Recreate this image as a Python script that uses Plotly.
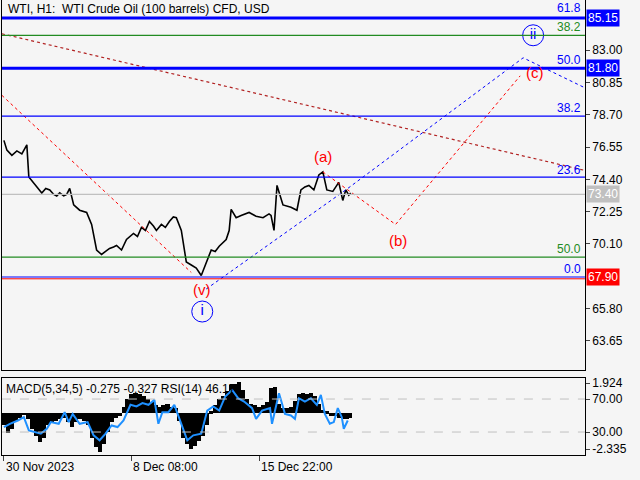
import plotly.graph_objects as go

# ---- price data (bar index, close) ----
px_x = [2,5,10,15,20,25,27,32,36,40,44,48,52,55,58,62,65,68,72,78,85,90,95,100,104,108,112,115,120,125,132,136,140,144,148,152,155,160,164,168,172,175,180,185,190,195,200,205,210,214,218,225,228,230,235,240,248,255,262,268,270,273,276,282,290,296,300,304,308,313,318,322,326,332,338,342,345,348,350]
px_y = [77.0,76.35,76.0,76.3,76.1,76.7,74.56,74.15,73.9,73.5,73.8,73.7,73.4,73.3,73.5,73.3,73.4,73.8,72.7,72.35,72.2,71.4,69.7,69.4,69.6,69.8,69.9,70.0,69.7,70.4,70.8,70.6,71.2,71.0,71.6,71.3,71.0,71.4,71.2,71.6,71.9,71.85,71.0,68.9,68.7,68.5,68.0,68.9,69.7,69.6,69.95,70.4,71.0,72.4,71.85,72.0,72.2,71.95,71.85,72.1,72.0,71.0,74.0,72.7,72.55,72.35,73.7,73.9,74.0,73.7,74.7,74.9,73.7,73.6,74.2,73.0,73.7,73.35,73.5]

# ---- MACD histogram ----
macd_x = [2,6,10,14,18,22,26,30,34,38,42,46,50,54,58,62,66,70,74,78,82,86,90,94,98,102,106,110,114,118,122,126,130,134,138,142,146,150,154,158,162,166,170,174,178,182,186,190,194,198,202,206,210,214,218,222,226,230,234,238,242,246,250,254,258,262,266,270,274,278,282,286,290,294,298,302,306,310,314,318,322,326,330,334,338,342,346,349]
macd_v = [-0.8,-1.3,-1.0,-0.5,-0.3,-0.1,-0.4,-1.0,-1.5,-1.9,-1.6,-0.8,-0.6,-0.5,-0.4,-0.3,-0.6,-0.9,-0.6,-0.4,-0.5,-0.8,-1.6,-2.2,-2.5,-2.0,-1.2,-0.6,-0.3,-0.2,0.4,0.9,1.2,1.3,1.2,1.1,0.9,0.7,0.5,0.4,0.5,0.6,0.4,0.3,-0.5,-1.6,-2.0,-2.3,-2.1,-1.8,-1.5,-0.8,0.1,0.5,0.9,1.1,1.4,1.8,1.9,2.0,1.5,0.9,0.6,0.5,0.4,0.5,0.7,1.6,1.7,0.6,0.3,0.3,0.4,0.8,1.2,1.3,1.2,1.3,1.1,0.6,0.2,0.1,-0.2,-0.2,-0.3,-0.4,-0.4,-0.3]

# ---- RSI ----
rsi_x = [2,8,16,22,27,33,39,45,49,57,63,67,71,78,86,92,98,104,110,116,122,129,135,141,147,153,157,161,167,173,180,186,192,200,206,212,218,224,231,237,243,251,255,261,269,271,278,284,290,294,298,304,310,316,320,324,329,333,337,341,343,347]
rsi_v = [36,40,44,48,32,30,28,34,42,40,54,42,52,40,42,26,20,28,38,36,44,63,61,65,63,69,40,54,54,63,40,20,26,28,56,61,56,73,81,71,67,59,46,56,59,40,77,52,50,46,71,67,71,63,75,52,40,42,59,48,34,44]

# ---- levels ----
lvl_blue_thick = [85.15, 81.80]
lvl_blue_thin = [78.62, 74.55, 67.90]
lvl_green = [84.00, 69.22]
lvl_gray = [73.40]
fib_labels = [("61.8", 85.85, "blue"), ("38.2", 84.55, "green"), ("50.0", 82.35, "blue"),
              ("38.2", 79.15, "blue"), ("23.6", 75.05, "blue"), ("50.0", 69.75, "green"),
              ("0.0", 68.45, "blue")]
ytick_vals = [83.00, 80.85, 78.70, 76.55, 74.40, 72.25, 70.10, 65.80, 63.65]
box_labels = [(85.15, "85.15", "#0000ff", "white"), (81.80, "81.80", "#0000ff", "white"),
              (73.40, "73.40", "#c0c0c0", "white"), (67.90, "67.90", "#ff0000", "white")]
date_pos = [2, 130, 258]
date_txt = ["30 Nov 2023", "8 Dec 08:00", "15 Dec 22:00"]

# wave paths
red_trend = ([0, 190], [80.0, 68.2])
brown_trend = ([0, 585], [84.1, 75.0])
blue_path = ([205, 345, 523, 585], [67.1, 73.7, 82.5, 80.5])
red_path = ([322, 395, 520], [74.9, 71.4, 81.3])
wave_labels = [("(a)", 322, 75.9, "red"), ("(b)", 397, 70.3, "red"), ("(c)", 535, 81.5, "red"),
               ("(v)", 201, 67.05, "red")]
circ_labels = [("i", 201, 65.6), ("ii", 533, 84.0)]

font = "Liberation Sans"
fig = go.Figure()

fig.add_trace(go.Scatter(x=px_x, y=px_y, mode="lines", line=dict(color="black", width=1.6),
                         xaxis="x", yaxis="y", showlegend=False))
for (xs, ys), col, dash, w in [(red_trend, "red", "dot", 1), (brown_trend, "#b22222", "dot", 1.2),
                                (blue_path, "blue", "dot", 1), (red_path, "red", "dot", 1)]:
    fig.add_trace(go.Scatter(x=xs, y=ys, mode="lines", line=dict(color=col, dash=dash, width=w),
                             xaxis="x", yaxis="y", showlegend=False))
for t, x, y, c in wave_labels:
    fig.add_annotation(x=x, y=y, text=t, showarrow=False, font=dict(color=c, size=15, family=font), xref="x", yref="y")
fig.add_trace(go.Scatter(x=[c[1] for c in circ_labels], y=[c[2] for c in circ_labels],
                         mode="markers+text", text=[c[0] for c in circ_labels],
                         marker=dict(symbol="circle-open", size=21, color="blue", line=dict(width=1)),
                         textfont=dict(color="blue", size=15, family=font), textposition="middle center",
                         xaxis="x", yaxis="y", showlegend=False))

shapes = []
def hline(y, color, width):
    shapes.append(dict(type="line", xref="x", yref="y", x0=0, x1=585, y0=y, y1=y, line=dict(color=color, width=width)))
for y in lvl_blue_thick: hline(y, "#0000ff", 3)
for y in lvl_blue_thin: hline(y, "#0000ff", 1.2)
for y in lvl_green: hline(y, "#228b22", 1.2)
for y in lvl_gray: hline(y, "#c0c0c0", 1.2)
shapes.append(dict(type="line", xref="x", yref="y", x0=0, x1=585, y0=67.78, y1=67.78, line=dict(color="red", width=1)))
for y in [70, 30]:
    shapes.append(dict(type="line", xref="x2", yref="y3", x0=0, x1=585, y0=y, y1=y, line=dict(color="#c0c0c0", width=1, dash="dash")))

for t, y, c in fib_labels:
    fig.add_annotation(x=583, y=y, text=t, showarrow=False, xanchor="right",
                       font=dict(color="#228b22" if c == "green" else "blue", size=12, family=font), xref="x", yref="y")
for y, t, bg, fg in box_labels:
    fig.add_annotation(x=0.916, xref="paper", y=y, yref="y", text=t, showarrow=False, xanchor="left",
                       bgcolor=bg, font=dict(color=fg, size=12, family=font), borderpad=1)
for xp, t in zip(date_pos, date_txt):
    fig.add_annotation(x=xp, xref="x2", y=0.045, yref="paper", yanchor="top", xanchor="left", text=t,
                       showarrow=False, font=dict(size=12, family=font, color="black"))

fig.add_annotation(x=0.01, xref="paper", y=1, yref="paper", yanchor="top", text="WTI, H1:  WTI Crude Oil (100 barrels) CFD, USD",
                   showarrow=False, xanchor="left", font=dict(size=12, family=font, color="black"))

# sub panel
fig.add_trace(go.Bar(x=macd_x, y=macd_v, width=4.2, marker=dict(color="black", line=dict(width=0)),
                     xaxis="x2", yaxis="y2", showlegend=False))
fig.add_trace(go.Scatter(x=rsi_x, y=rsi_v, mode="lines", line=dict(color="#1e90ff", width=2),
                         xaxis="x2", yaxis="y3", showlegend=False))
fig.add_annotation(x=0.006, xref="paper", y=0.209, yref="paper", yanchor="top", text="MACD(5,34,5) -0.275 -0.327 RSI(14) 46.17",
                   showarrow=False, xanchor="left", font=dict(size=12, family=font, color="black"))

tf = dict(size=12, family=font, color="black")
fig.update_layout(
    width=640, height=480, margin=dict(l=0, r=0, t=0, b=0),
    paper_bgcolor="#f5f5f5", plot_bgcolor="#f5f5f5", shapes=shapes, bargap=0,
    xaxis=dict(domain=[0.003, 0.914], range=[0, 585], showticklabels=False, showgrid=False, zeroline=False,
               showline=True, mirror=True, linecolor="black", anchor="y", automargin=False),
    yaxis=dict(domain=[0.229, 1.0], range=[61.70, 86.35], side="right", tickvals=ytick_vals,
               ticktext=[f"{v:.2f}" for v in ytick_vals], showgrid=False, zeroline=False, ticks="outside",
               ticklen=4, showline=True, mirror=True, linecolor="black", tickfont=tf, anchor="x", automargin=False),
    xaxis2=dict(domain=[0.003, 0.914], range=[0, 585], tickvals=date_pos, ticktext=["", "", ""], ticks="outside",
                ticklen=5, showgrid=False, zeroline=False, showline=True, mirror=True, linecolor="black",
                tickfont=tf, anchor="y2", automargin=False),
    yaxis2=dict(domain=[0.052, 0.2125], range=[-2.71, 2.26], side="right", tickvals=[1.924, -2.335],
                ticktext=["1.924", "-2.335"], showgrid=False, zeroline=False, ticks="outside", ticklen=4,
                showline=True, mirror=True, linecolor="black", tickfont=tf, anchor="x2", automargin=False),
    yaxis3=dict(range=[2.1, 95.5], overlaying="y2", side="right", tickvals=[70, 30], ticktext=["70.00", "30.00"],
                showgrid=False, zeroline=False, ticks="outside", ticklen=4, tickfont=tf, anchor="x2", automargin=False),
)
fig.write_html("out.html", config={"displayModeBar": False})
with open("out.html", encoding="utf-8") as f:
    html = f.read()
html = html.replace("<body>", '<body style="margin:0;padding:0;overflow:hidden">', 1)
with open("out.html", "w", encoding="utf-8") as f:
    f.write(html)
